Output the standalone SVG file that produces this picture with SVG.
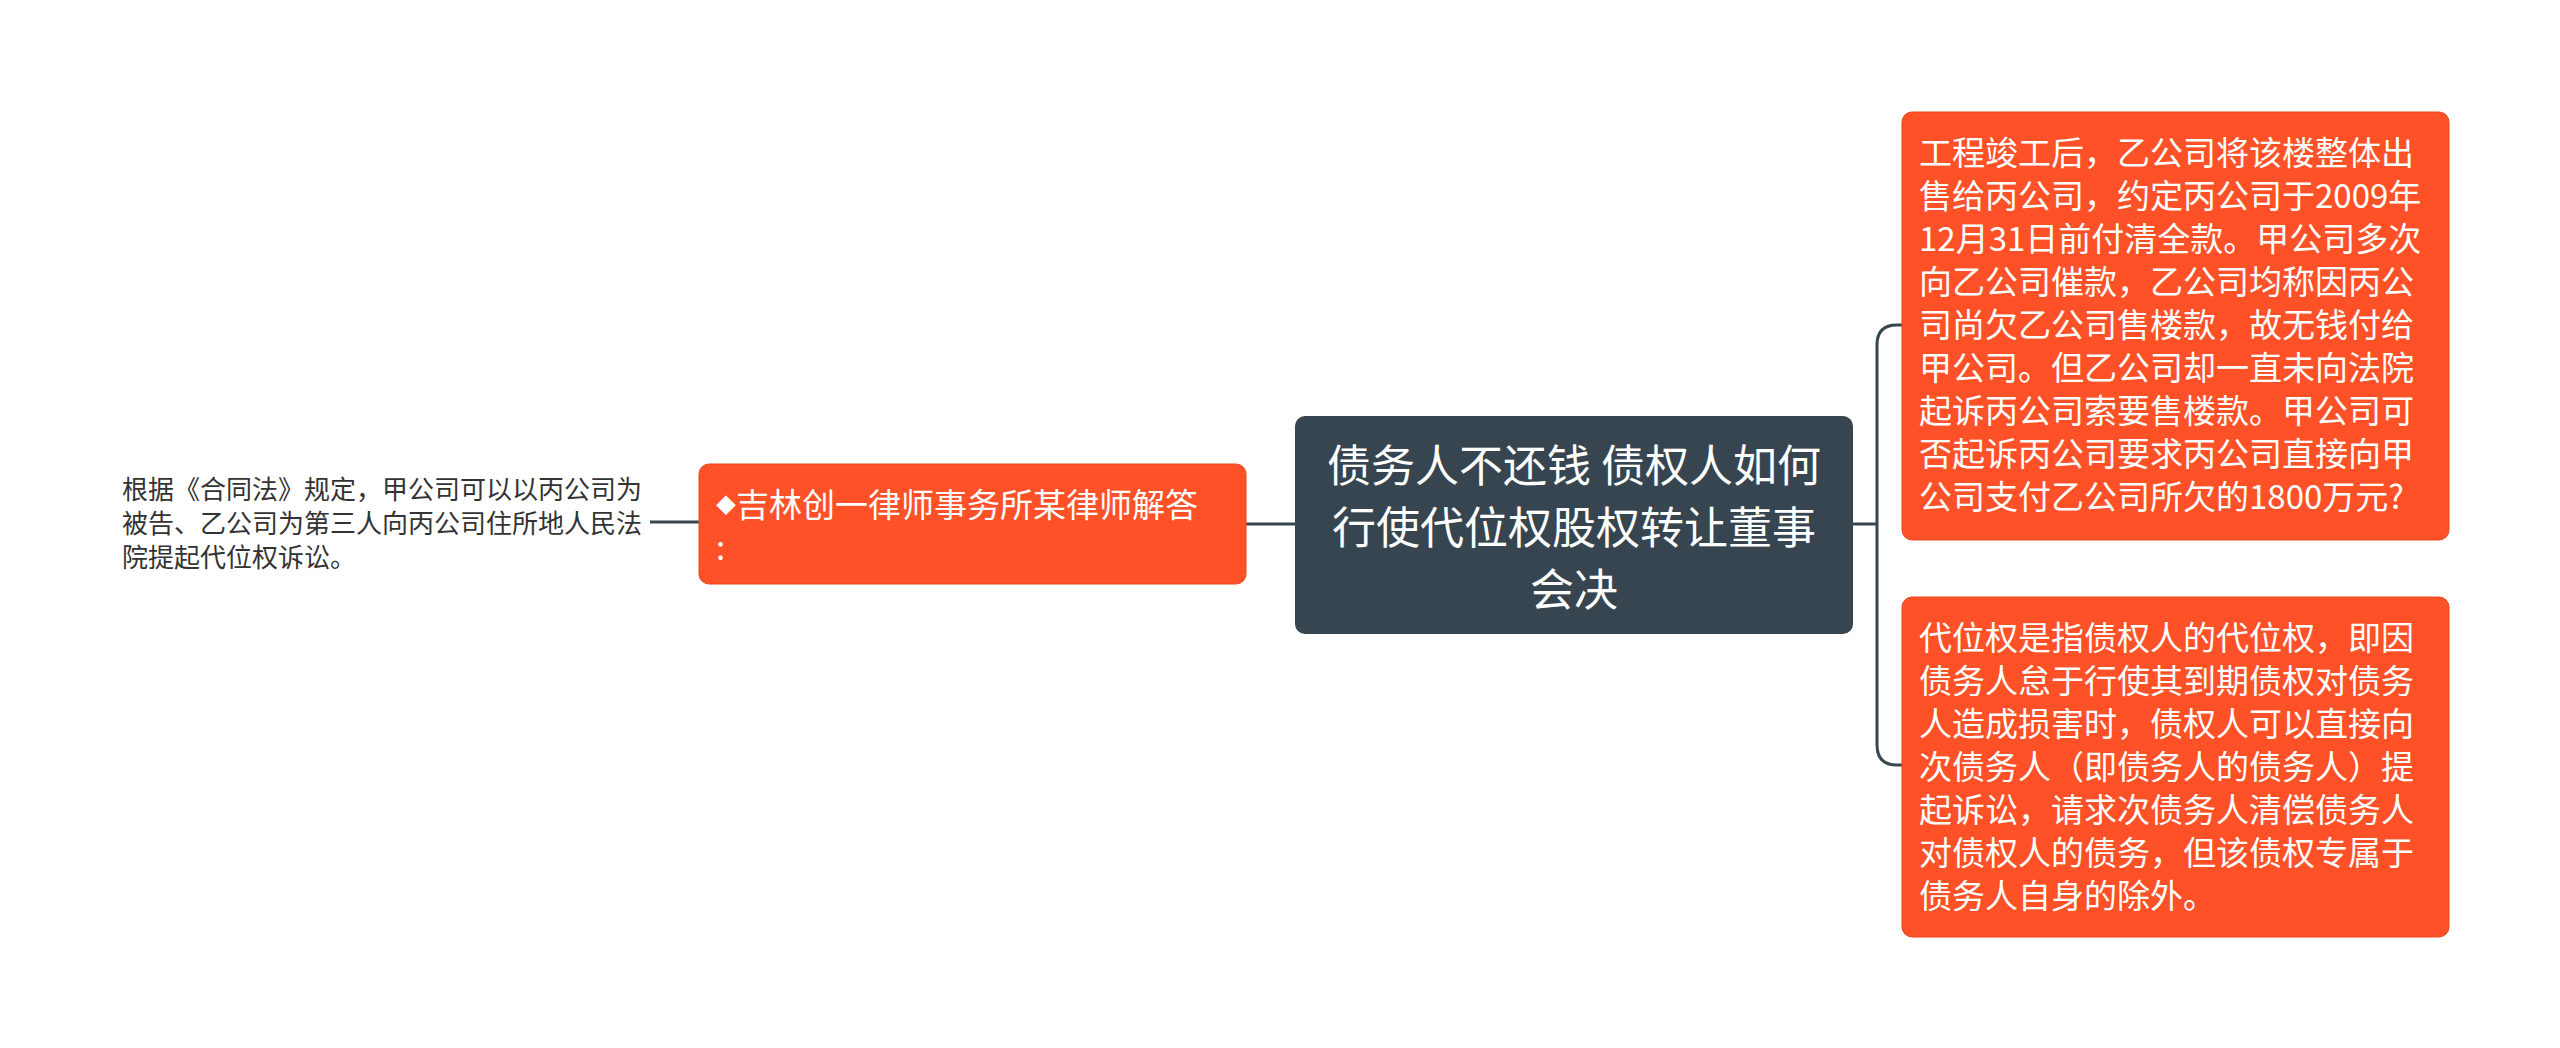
<svg xmlns="http://www.w3.org/2000/svg" width="2560" height="1048" viewBox="0 0 2560 1048">
<style>
.t{font-family:"Noto Sans CJK SC","Noto Sans",sans-serif}
.w{fill:#ffffff}
.ln{fill:none;stroke:#37474f;stroke-width:3}
.or{fill:#ff5127;stroke:#e8491f;stroke-width:1}
</style>
<rect width="2560" height="1048" fill="#ffffff"/>
<g id="connectors">
<path class="ln" d="M1295 524 H1246"/>
<path class="ln" d="M699 522 H650"/>
<path class="ln" d="M1853 524 H1877"/>
<path class="ln" d="M1902 325 H1897 Q1877 325 1877 345 V745 Q1877 765 1897 765 H1902"/>
</g>
<g id="center">
<rect x="1295" y="416" width="558" height="218" rx="10" fill="#36454f"/>
<text class="t w" font-size="44" text-anchor="middle"><tspan x="1574" y="482">债务人不还钱 债权人如何</tspan><tspan x="1574" y="544">行使代位权股权转让董事</tspan><tspan x="1574" y="606">会决</tspan></text>
</g>
<g id="left-node">
<rect class="or" x="699" y="464" width="547" height="120" rx="10"/>
<text class="t w" font-size="33"><tspan x="716" y="517"><tspan font-size="20" dy="-4">◆</tspan><tspan dy="4">吉林创一律师事务所某律师解答</tspan></tspan><tspan x="716" y="560">:</tspan></text>
</g>
<g id="left-text">
<text class="t" font-size="26" fill="#333333"><tspan x="122" y="499">根据《合同法》规定，甲公司可以以丙公司为</tspan><tspan x="122" y="533">被告、乙公司为第三人向丙公司住所地人民法</tspan><tspan x="122" y="567">院提起代位权诉讼。</tspan></text>
</g>
<g id="right-top">
<rect class="or" x="1902" y="112" width="547" height="428" rx="10"/>
<text class="t w" font-size="33"><tspan x="1919" y="165">工程竣工后，乙公司将该楼整体出</tspan><tspan x="1919" y="208">售给丙公司，约定丙公司于2009年</tspan><tspan x="1919" y="251">12月31日前付清全款。甲公司多次</tspan><tspan x="1919" y="294">向乙公司催款，乙公司均称因丙公</tspan><tspan x="1919" y="337">司尚欠乙公司售楼款，故无钱付给</tspan><tspan x="1919" y="380">甲公司。但乙公司却一直未向法院</tspan><tspan x="1919" y="423">起诉丙公司索要售楼款。甲公司可</tspan><tspan x="1919" y="466">否起诉丙公司要求丙公司直接向甲</tspan><tspan x="1919" y="509">公司支付乙公司所欠的1800万元?</tspan></text>
</g>
<g id="right-bottom">
<rect class="or" x="1902" y="597" width="547" height="340" rx="10"/>
<text class="t w" font-size="33"><tspan x="1919" y="650">代位权是指债权人的代位权，即因</tspan><tspan x="1919" y="693">债务人怠于行使其到期债权对债务</tspan><tspan x="1919" y="736">人造成损害时，债权人可以直接向</tspan><tspan x="1919" y="779">次债务人（即债务人的债务人）提</tspan><tspan x="1919" y="822">起诉讼，请求次债务人清偿债务人</tspan><tspan x="1919" y="865">对债权人的债务，但该债权专属于</tspan><tspan x="1919" y="908">债务人自身的除外。</tspan></text>
</g>
</svg>
